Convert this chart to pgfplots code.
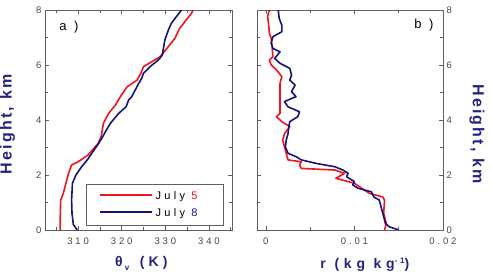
\documentclass[border=0pt]{standalone}
\usepackage{pgfplots}
\pgfplotsset{compat=1.18}
\usepackage{fontspec}
\setmainfont{Liberation Sans}
\newfontfamily\tickfont[LetterSpace=30]{Liberation Sans}
\newfontfamily\legfont[LetterSpace=30]{Liberation Sans}
\newfontfamily\labfont[LetterSpace=14]{Liberation Sans Bold}
\newfontfamily\thlabfont[LetterSpace=30]{Liberation Sans Bold}
\newfontfamily\rlabfont[LetterSpace=34]{Liberation Sans Bold}
\definecolor{myred}{RGB}{240,20,30}
\definecolor{mynavy}{RGB}{20,20,125}
\definecolor{labnavy}{RGB}{35,35,130}
\definecolor{tickgray}{RGB}{70,70,70}
\definecolor{axisgray}{RGB}{95,95,95}

\pgfplotstableread{
x y
305.9 0
305.9 0.5
306.0 1.09
306.6 1.33
307.2 1.7
307.8 2.06
308.5 2.36
310.0 2.48
312.3 2.73
314.6 3.15
315.3 3.4
315.8 3.88
317.0 4.24
318.6 4.55
319.7 4.85
321.2 5.2
323.5 5.45
324.4 5.7
325.0 5.94
326.9 6.12
328.8 6.3
330.7 6.67
332.2 6.97
333.3 7.33
334.8 7.64
336.0 7.88
336.4 8.0
}\thetafive

\pgfplotstableread{
x y
309.8 0
308.9 0.2
308.6 0.6
308.5 1.09
308.7 1.7
309.5 2.0
310.8 2.3
312.1 2.55
313.4 2.85
314.7 3.15
315.4 3.33
316.5 3.64
317.4 3.88
319.3 4.24
321.0 4.48
321.6 4.73
322.3 4.85
323.1 5.09
323.9 5.33
324.6 5.52
325.0 5.7
326.5 5.94
328.4 6.18
329.3 6.36
329.9 6.91
330.7 7.27
331.4 7.52
333.7 8.0
}\thetaeight

\pgfplotstableread{
x y
0.0134 0
0.0136 0.24
0.0133 0.61
0.0134 1.09
0.0132 1.2
0.0117 1.33
0.0109 1.5
0.0100 1.7
0.0079 1.88
0.0089 2.06
0.0078 2.18
0.0040 2.24
0.0038 2.36
0.0040 2.48
0.0025 2.55
0.0023 2.79
0.0021 3.03
0.0019 3.27
0.0021 3.5
0.0027 3.76
0.0018 3.94
0.0012 4.12
0.0016 4.24
0.0016 4.73
0.0016 5.33
0.0018 5.58
0.0012 5.82
0.0006 6.0
0.0004 6.18
0.0008 6.3
0.0007 6.67
0.0006 6.97
0.0004 7.15
0.0003 7.52
0.0002 7.76
0.0004 8.0
}\rfive

\pgfplotstableread{
x y
0.0150 0
0.0139 0.12
0.0135 0.24
0.0132 0.61
0.0130 0.85
0.0128 1.09
0.0122 1.2
0.0119 1.39
0.0104 1.52
0.0098 1.64
0.0100 1.76
0.0091 1.94
0.0093 2.06
0.0087 2.18
0.0078 2.3
0.0057 2.42
0.0040 2.55
0.0034 2.67
0.0025 2.79
0.0022 3.03
0.0023 3.27
0.0025 3.5
0.0026 3.76
0.0027 3.94
0.0036 4.12
0.0038 4.3
0.0025 4.48
0.0021 4.67
0.0034 4.85
0.0029 5.03
0.0033 5.27
0.0027 5.45
0.0029 5.64
0.0027 5.88
0.0016 6.06
0.0010 6.24
0.0016 6.48
0.0008 6.6
0.0006 6.79
0.0008 7.03
0.0018 7.21
0.0018 7.45
0.0015 7.7
0.0014 8.0
}\reight

\begin{document}
\begin{tikzpicture}
\useasboundingbox (0pt,0pt) rectangle (491pt,276pt);
\pgfplotsset{
  myaxis/.style={
    scale only axis, width=187pt, height=220pt,
    ymin=0, ymax=8,
    ytick={0,2,4,6,8}, minor ytick={1,3,5,7},
    axis line style={draw=axisgray, line width=0.8pt},
    tick style={draw=axisgray, line width=0.6pt},
    major tick length=4pt, minor tick length=3pt,
    tick align=inside,
    scaled x ticks=false,
    /pgf/number format/assume math mode=true,
    ticklabel style={font=\tickfont\fontsize{9.5}{10}\selectfont, text=tickgray},
    xticklabel style={yshift=-4pt},
    every axis plot/.append style={line width=1.6pt, line join=round},
  }
}
\begin{axis}[myaxis,
  at={(45pt,46pt)}, anchor=south west,
  xmin=302.4, xmax=345.3,
  xtick={310,320,330,340}, xticklabels={310,320,330,340},
  minor xtick={305,315,325,335,345},
  yticklabel pos=left,
  xlabel={\thlabfont θ\,\raisebox{-4pt}{\fontsize{8}{8}\selectfont v}\, (K)},
  xlabel style={at={(axis description cs:0.515,-0.15)}, anchor=center, font=\fontsize{14}{14}\selectfont, text=labnavy},
  ylabel={\labfont Height, km},
  every axis y label/.style={at={(axis description cs:-0.2,0.48)}, anchor=center, rotate=90, font=\fontsize{16}{16}\selectfont, text=labnavy},
]
\addplot[myred] table {\thetafive};
\addplot[mynavy] table {\thetaeight};
\node[font=\legfont\fontsize{13}{13}\selectfont] at (axis description cs:0.128,0.923) {a )};
\node[draw=axisgray, line width=0.8pt, fill=white, anchor=south east, inner xsep=13pt, inner ysep=6pt,
      font=\legfont\fontsize{11}{12}\selectfont]
  at (axis description cs:0.957,0.018)
  {\begin{tabular}{@{}l@{\hspace{4pt}}p{55pt}@{}}
   \textcolor{myred}{\rule[3.2pt]{52pt}{1.6pt}} & July {\color{myred}5}\\[5pt]
   \textcolor{mynavy}{\rule[3.2pt]{52pt}{1.6pt}} & July {\color{mynavy}8}
   \end{tabular}};
\end{axis}

\begin{axis}[myaxis,
  at={(257pt,46pt)}, anchor=south west,
  width=186pt,
  xmin=-0.001, xmax=0.02,
  xtick={0,0.01,0.02}, xticklabels={0,0.01,0.02},
  minor xtick={0.005,0.015},
  yticklabel pos=right,
  xlabel={\rlabfont r (kg kg\raisebox{5pt}{\fontsize{8}{8}\selectfont -1})},
  xlabel style={at={(axis description cs:0.58,-0.159)}, anchor=center, font=\fontsize{14}{14}\selectfont, text=labnavy},
  ylabel={\labfont Height, km},
  every axis y label/.style={at={(axis description cs:1.183,0.436)}, anchor=center, rotate=-90, font=\fontsize{16}{16}\selectfont, text=labnavy},
]
\addplot[myred] table {\rfive};
\addplot[mynavy] table {\reight};
\node[font=\legfont\fontsize{13}{13}\selectfont] at (axis description cs:0.898,0.93) {b )};
\end{axis}
\end{tikzpicture}
\end{document}
